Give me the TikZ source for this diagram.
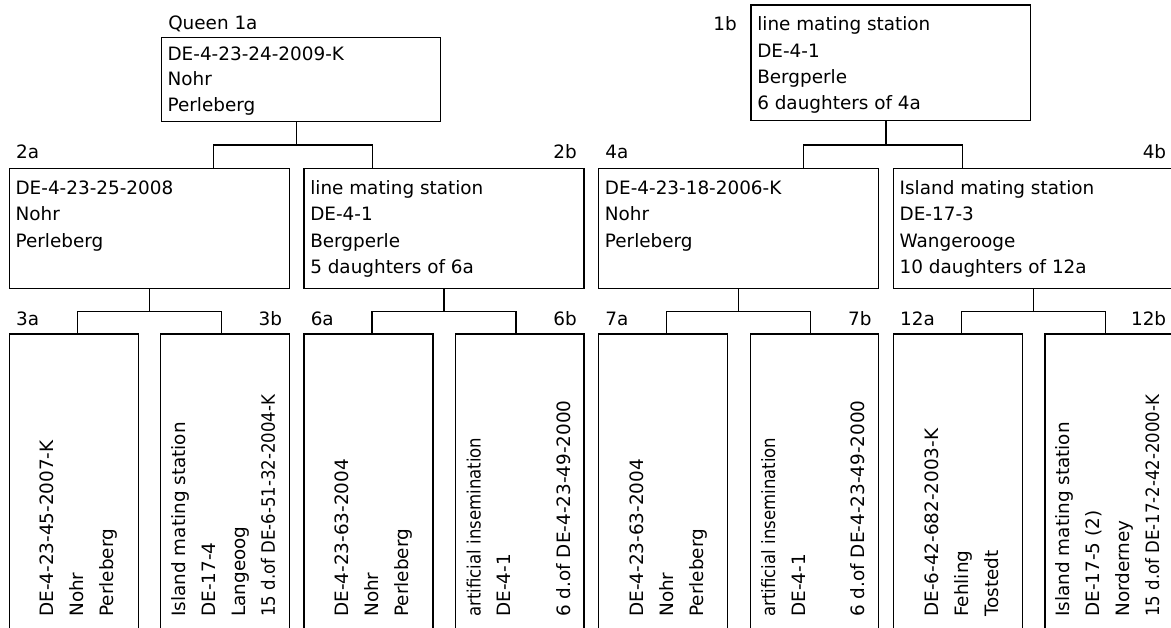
\documentclass[tikz,border=0pt]{standalone}
\usepackage{fontspec}
\setmainfont{DejaVu Sans}
\newfontfamily\condf[FakeStretch=0.9]{DejaVu Sans}
\usetikzlibrary{fit}
\newcommand{\stk}[2]{\parbox[t]{12cm}{\baselineskip=#1\relax #2}}
\begin{document}
\begin{tikzpicture}[x=0.75pt,y=-0.75pt,
  box/.style={draw, line width=1pt, inner sep=0pt},
  conn/.style={line width=1pt},
  lbl/.style={inner sep=0pt, font=\fontsize{13.8pt}{16pt}\selectfont},
  lblw/.style={lbl, anchor=base west},
  lble/.style={lbl, anchor=base east},
  txt/.style={inner sep=0pt, anchor=base west, font=\fontsize{13.8pt}{16pt}\selectfont},
  vtxt/.style={txt, rotate=90}]
\useasboundingbox (0,0) rectangle (1171,628);
\fill[white] (0,0) rectangle (1171,628);
% ---------- level 1
\node[box, fit={(161.5,37.7) (440.7,121.7)}] (q) {};
\node[lblw] (lq) at (168,29.5) {Queen 1a};
\node[txt] (tq) at (167.3,60) {\stk{19.4pt}{DE-4-23-24-2009-K\\Nohr\\Perleberg}};
\node[box, fit={(751,5) (1030.7,120.7)}] (b1) {};
\node[lble] (lb1) at (737,31) {1b};
\node[txt] (tb1) at (757,31) {\stk{19.7pt}{line mating station\\DE-4-1\\Bergperle\\6 daughters of 4a}};
% ---------- level 2
\node[box, fit={(9.3,168.3) (289.3,288.3)}] (a2) {};
\node[box, fit={(304,168.3) (584,288.3)}] (b2) {};
\node[box, fit={(598.7,168.3) (878.7,288.3)}] (a4) {};
\node[box, fit={(893.4,168.3) (1173.4,288.3)}] (b4) {};
\node[lblw] (la2) at (15.8,158.3) {2a};
\node[lble] (lb2) at (577,158.3) {2b};
\node[lblw] (la4) at (605.2,158.3) {4a};
\node[lble] (lb4) at (1166.4,158.3) {4b};
\node[txt] (ta2) at (15.3,194) {\stk{19.9pt}{DE-4-23-25-2008\\Nohr\\Perleberg}};
\node[txt] (tb2) at (310,194) {\stk{19.9pt}{line mating station\\DE-4-1\\Bergperle\\5 daughters of 6a}};
\node[txt] (ta4) at (604.7,194) {\stk{19.9pt}{DE-4-23-18-2006-K\\Nohr\\Perleberg}};
\node[txt] (tb4) at (899.4,194) {\stk{19.9pt}{Island mating station\\DE-17-3\\Wangerooge\\10 daughters of 12a}};
% ---------- level 3
\node[box, fit={(9.3,334) (138.3,660)}] (a3) {};
\node[box, fit={(160.8,334) (289.3,660)}] (b3) {};
\node[box, fit={(304,334) (433,660)}] (a6) {};
\node[box, fit={(455.5,334) (584,660)}] (b6) {};
\node[box, fit={(598.7,334) (727.7,660)}] (a7) {};
\node[box, fit={(750.2,334) (878.7,660)}] (b7) {};
\node[box, fit={(893.4,334) (1022.4,660)}] (a12) {};
\node[box, fit={(1044.9,334) (1173.4,660)}] (b12) {};
\node[lblw] (la3) at (15.8,325) {3a};
\node[lble] (lb3) at (282.3,325) {3b};
\node[lblw] (la6) at (310.5,325) {6a};
\node[lble] (lb6) at (577,325) {6b};
\node[lblw] (la7) at (605.2,325) {7a};
\node[lble] (lb7) at (871.7,325) {7b};
\node[lblw] (la12) at (899.9,325) {12a};
\node[lble] (lb12) at (1166.4,325) {12b};
\node[vtxt] (ta3) at (53.8,617) {\stk{22.5pt}{DE-4-23-45-2007-K\\Nohr\\Perleberg}};
\node[vtxt] (tb3) at (185.3,617) {\stk{22.4pt}{Island mating station\\DE-17-4\\Langeoog\\{\condf 15 d.of DE-6-51-32-2004-K}}};
\node[vtxt] (ta6) at (348.5,617) {\stk{22.5pt}{DE-4-23-63-2004\\Nohr\\Perleberg}};
\node[vtxt] (tb6) at (480.5,617) {\stk{22.4pt}{{\condf artificial insemination}\\DE-4-1\\\mbox{}\\6 d.of DE-4-23-49-2000}};
\node[vtxt] (ta7) at (643.2,617) {\stk{22.5pt}{DE-4-23-63-2004\\Nohr\\Perleberg}};
\node[vtxt] (tb7) at (775.2,617) {\stk{22.4pt}{{\condf artificial insemination}\\DE-4-1\\\mbox{}\\6 d.of DE-4-23-49-2000}};
\node[vtxt] (ta12) at (938.1,617) {\stk{22.5pt}{DE-6-42-682-2003-K\\Fehling\\Tostedt}};
\node[vtxt] (tb12) at (1069.6,617) {\stk{22.4pt}{Island mating station\\DE-17-5 (2)\\Norderney\\{\condf 15 d.of DE-17-2-42-2000-K}}};
% ---------- connectors level 1
\coordinate (jq) at (296.7,145); \coordinate (lq1) at (213.3,145); \coordinate (rq1) at (372.4,145);
\draw[conn] (q.south -| jq) -- (jq);
\draw[conn] (a2.north -| lq1) -- (lq1) -- (rq1) -- (b2.north -| rq1);
\coordinate (jb) at (886,145); \coordinate (lb1c) at (803.5,145); \coordinate (rb1c) at (962.2,145);
\draw[conn] (b1.south -| jb) -- (jb);
\draw[conn] (a4.north -| lb1c) -- (lb1c) -- (rb1c) -- (b4.north -| rb1c);
% ---------- connectors level 2
\coordinate (ja2) at (149.3,311.7); \coordinate (la2c) at (77.3,311.7); \coordinate (ra2c) at (221.3,311.7);
\draw[conn] (a2.south -| ja2) -- (ja2);
\draw[conn] (a3.north -| la2c) -- (la2c) -- (ra2c) -- (b3.north -| ra2c);
\coordinate (jb2) at (444,311.7); \coordinate (lb2c) at (372,311.7); \coordinate (rb2c) at (516,311.7);
\draw[conn] (b2.south -| jb2) -- (jb2);
\draw[conn] (a6.north -| lb2c) -- (lb2c) -- (rb2c) -- (b6.north -| rb2c);
\coordinate (ja4) at (738.7,311.7); \coordinate (la4c) at (666.7,311.7); \coordinate (ra4c) at (810.7,311.7);
\draw[conn] (a4.south -| ja4) -- (ja4);
\draw[conn] (a7.north -| la4c) -- (la4c) -- (ra4c) -- (b7.north -| ra4c);
\coordinate (jb4) at (1033.4,311.7); \coordinate (lb4c) at (961.4,311.7); \coordinate (rb4c) at (1105.4,311.7);
\draw[conn] (b4.south -| jb4) -- (jb4);
\draw[conn] (a12.north -| lb4c) -- (lb4c) -- (rb4c) -- (b12.north -| rb4c);
\end{tikzpicture}
\end{document}
